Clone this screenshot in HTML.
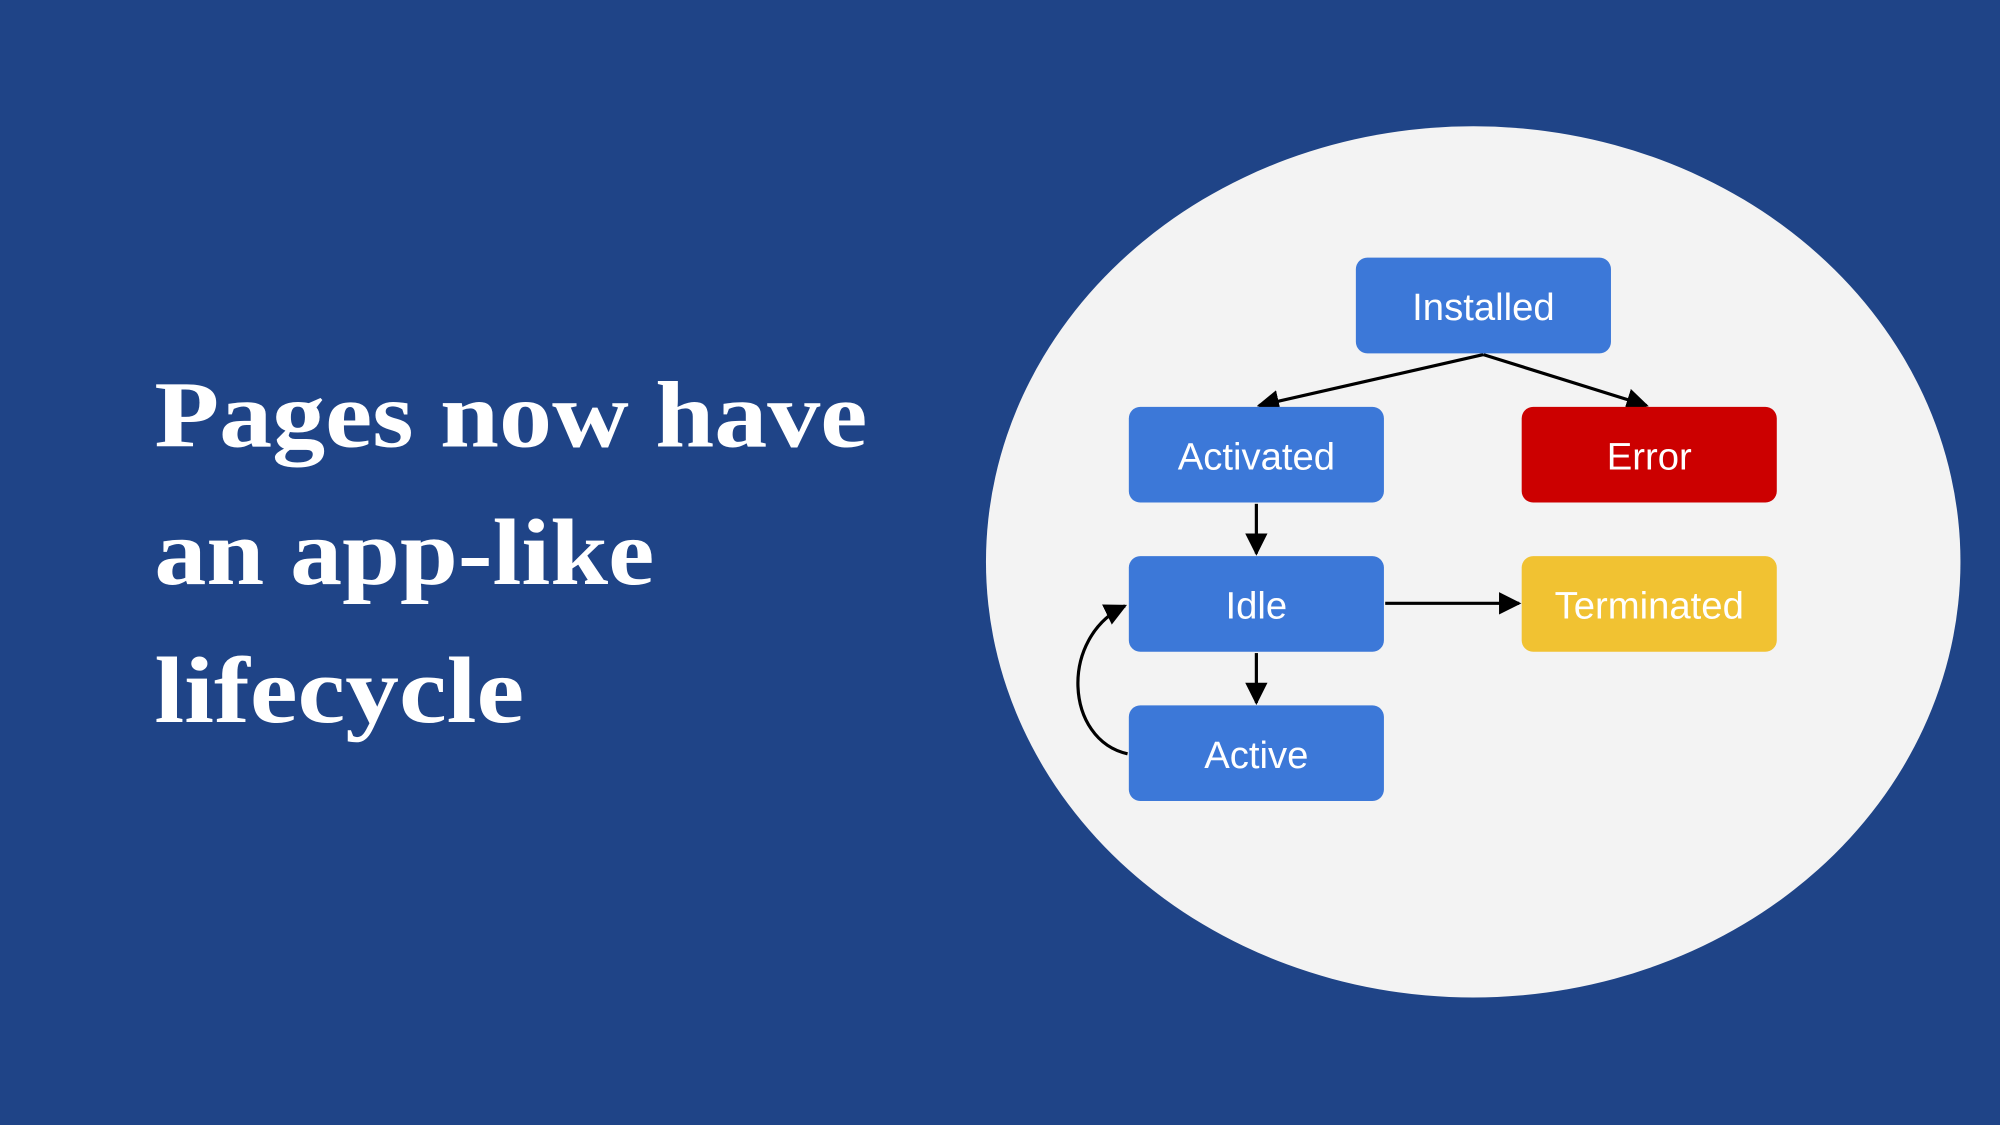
<!DOCTYPE html>
<html><head><meta charset="utf-8"><style>
html,body{margin:0;padding:0;background:#1f4487;}
svg{display:block;}
</style></head><body>
<svg width="2000" height="1125" viewBox="0 0 1568 882" xmlns="http://www.w3.org/2000/svg">
<defs>
<marker id="a" viewBox="0 0 10 10" refX="9" refY="5" markerWidth="7" markerHeight="7" orient="auto-start-reverse">
<path d="M0,0 L10,5 L0,10 z" fill="#000"/></marker>
</defs>
<rect width="1568" height="882" fill="#1f4487"/>
<g font-family="'Liberation Serif', serif" font-weight="bold" font-size="74" fill="#ffffff">
<text x="121" y="350" textLength="559" lengthAdjust="spacingAndGlyphs">Pages now have</text>
<text x="121" y="458" textLength="392" lengthAdjust="spacingAndGlyphs">an app-like</text>
<text x="121" y="566" textLength="290" lengthAdjust="spacingAndGlyphs">lifecycle</text>
</g>
<ellipse cx="1155" cy="440.5" rx="382" ry="341.5" fill="#f3f3f3"/>
<g stroke="#000" stroke-width="2.5" fill="none">
<path d="M1163,278 L987,318" marker-end="url(#a)"/>
<path d="M1163,278 L1291,318" marker-end="url(#a)"/>
<path d="M985,395 L985,434" marker-end="url(#a)"/>
<path d="M985,512 L985,551" marker-end="url(#a)"/>
<path d="M1086,473 L1191,473" marker-end="url(#a)"/>
<path d="M884,591 C835,580 830,500 882,475" marker-end="url(#a)"/>
</g>
<g font-family="'Liberation Sans', sans-serif" font-size="30" fill="#fff" text-anchor="middle">
<rect x="1063" y="202" width="200" height="75" rx="9" fill="#3c78d8"/>
<text x="1163" y="251">Installed</text>
<rect x="885" y="319" width="200" height="75" rx="9" fill="#3c78d8"/>
<text x="985" y="368">Activated</text>
<rect x="1193" y="319" width="200" height="75" rx="9" fill="#cc0000"/>
<text x="1293" y="368">Error</text>
<rect x="885" y="436" width="200" height="75" rx="9" fill="#3c78d8"/>
<text x="985" y="485">Idle</text>
<rect x="1193" y="436" width="200" height="75" rx="9" fill="#f1c232"/>
<text x="1293" y="485">Terminated</text>
<rect x="885" y="553" width="200" height="75" rx="9" fill="#3c78d8"/>
<text x="985" y="602">Active</text>
</g>
</svg>
</body></html>
